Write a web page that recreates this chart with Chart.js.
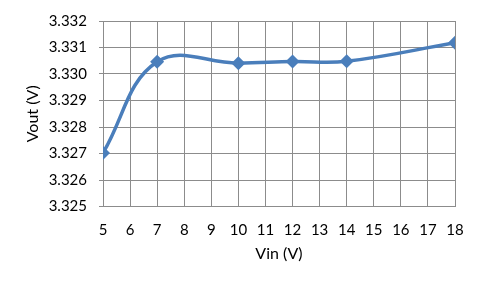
<!DOCTYPE html>
<html>
<head>
<meta charset="utf-8">
<script src="https://cdn.jsdelivr.net/npm/chart.js@4"></script>
<style>
  html, body { margin: 0; padding: 0; background: #fff; }
  #wrap { width: 484px; height: 288px; }
</style>
</head>
<body>
<div id="wrap"><canvas id="vout-chart" width="484" height="288"></canvas></div>
<script>
// datos
const vin = [5, 7, 10, 12, 14, 18];
const vout = [3.32702, 3.33046, 3.33041, 3.33047, 3.33048, 3.33118];
const xTicks = [5, 6, 7, 8, 9, 10, 11, 12, 13, 14, 15, 16, 17, 18];
const yTicks = [3.325, 3.326, 3.327, 3.328, 3.329, 3.33, 3.331, 3.332];

const lineColor = "#4a7ebb";
const gridColor = "#8c8c8c";
const font = { family: "Lato", size: 15 };

const chartVout = document.querySelector("#vout-chart");

const chartConfig = {
  type: "scatter",
  data: {
    datasets: [
      {
        label: "Vout",
        data: vin.map((x, i) => ({ x: x, y: vout[i] })),
        showLine: true,
        borderColor: lineColor,
        backgroundColor: lineColor,
        borderWidth: 3.5,
        tension: 0.4,
        pointStyle: "rectRot",
        pointRadius: 7,
        pointHoverRadius: 7,
        pointBorderWidth: 0,
      },
    ],
  },
  options: {
    responsive: false,
    animation: false,
    layout: { padding: { top: 19, right: 29, bottom: 25, left: 0 } },
    plugins: { legend: { display: false }, tooltip: { enabled: false } },
    scales: {
      x: {
        type: "linear",
        min: 5,
        max: 18,
        afterBuildTicks: (scale) => {
          scale.ticks = xTicks.map((v) => ({ value: v }));
        },
        afterFit: (scale) => {
          scale.height = 56.5;
        },
        grid: { color: gridColor, drawTicks: false, lineWidth: 1 },
        border: { color: gridColor },
        ticks: { color: "#000", font: font, padding: 15, maxRotation: 0 },
        title: {
          display: true,
          text: "Vin (V)",
          color: "#000",
          font: { family: "Lato", size: 16 },
          padding: { top: 4, bottom: 0 },
        },
      },
      y: {
        min: 3.325,
        max: 3.332,
        afterBuildTicks: (scale) => {
          scale.ticks = yTicks.map((v) => ({ value: v }));
        },
        afterFit: (scale) => {
          scale.width = 103;
        },
        grid: { color: gridColor, tickLength: 4, lineWidth: 1 },
        border: { color: gridColor },
        ticks: {
          color: "#000",
          font: font,
          padding: 12,
          callback: (v) => v.toFixed(3),
        },
        title: {
          display: true,
          text: "Vout (V)",
          color: "#000",
          font: { family: "Lato", size: 16 },
          padding: { bottom: 0, top: 23 },
        },
      },
    },
  },
};

const chart = new Chart(chartVout, chartConfig);
</script>
</body>
</html>
